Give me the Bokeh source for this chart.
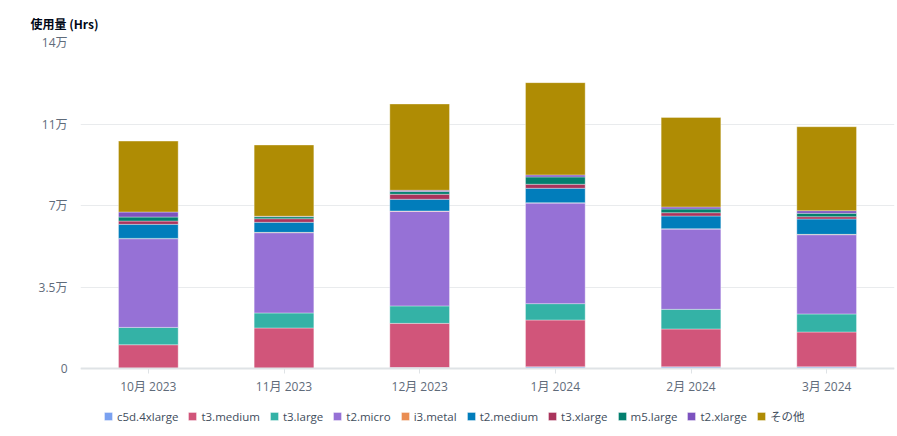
from bokeh.plotting import figure
from bokeh.models import ColumnDataSource, FixedTicker, Legend, LegendItem, FactorRange, Range1d
from bokeh.embed import file_html
from bokeh.resources import INLINE

# ---- data ----
months = ["10月 2023", "11月 2023", "12月 2023", "1月 2024", "2月 2024", "3月 2024"]
series = ["c5d.4xlarge", "t3.medium", "t3.large", "t2.micro", "i3.metal",
          "t2.medium", "t3.xlarge", "m5.large", "t2.xlarge", "その他"]
c5d_4xlarge = [0, 0, 430, 730, 730, 730]
t3_medium = [10200, 17400, 18950, 20100, 16240, 14950]
t3_large = [7450, 6460, 7500, 7020, 8440, 7750]
t2_micro = [38080, 34460, 40620, 43200, 34460, 34030]
i3_metal = [150, 150, 150, 150, 150, 150]
t2_medium = [6030, 4310, 5030, 6200, 5470, 6590]
t3_xlarge = [1420, 1550, 2150, 1720, 1420, 990]
m5_large = [1720, 860, 1150, 3150, 1590, 1460]
t2_xlarge = [2150, 200, 570, 860, 860, 1120]
other = [30450, 30590, 37050, 39630, 38470, 36060]
y_ticks = [0, 35000, 70000, 105000, 140000]
y_tick_labels = ["0", "3.5万", "7万", "11万", "14万"]
colors = ["#7aa1f0", "#d1557a", "#34b2a6", "#9671d6", "#ea8d52",
          "#017dbb", "#aa345c", "#037f6e", "#7c52bf", "#af8c04"]

keys = ["s%d" % i for i in range(len(series))]
data = dict(month=months)
for k, vals in zip(keys, [c5d_4xlarge, t3_medium, t3_large, t2_micro, i3_metal,
                          t2_medium, t3_xlarge, m5_large, t2_xlarge, other]):
    data[k] = vals
source = ColumnDataSource(data)

FONT = "'Open Sans', 'Noto Sans CJK JP'"
TXT = "#5f6b7a"

# layout geometry (pixels): value area 326 px tall, 68 px below zero for axis labels + legend
PLOT_PX = 326
BELOW_PX = 68
y_max = y_ticks[-1]
y_min = -y_max * BELOW_PX / PLOT_PX

p = figure(x_range=FactorRange(*months), y_range=Range1d(y_min, y_max),
           frame_width=814, frame_height=PLOT_PX + BELOW_PX,
           output_backend="svg", toolbar_location=None,
           min_border_left=80, min_border_right=3, min_border_top=42, min_border_bottom=0)
p.outline_line_color = None
p.background_fill_color = "white"
p.border_fill_color = "white"

renderers = p.vbar_stack(keys, x="month", width=0.44, source=source, color=colors,
                         line_color="white", line_alpha=0.35, line_width=1)

# title
p.title.text = "使用量 (Hrs)"
p.title.align = "left"
p.title.offset = -50
p.title.standoff = 22
p.title.text_font = "'Noto Sans CJK JP'"
p.title.text_font_size = "12px"
p.title.text_font_style = "bold"
p.title.text_color = "#000716"

# y axis
p.yaxis.ticker = FixedTicker(ticks=y_ticks)
p.yaxis.major_label_overrides = {t: l for t, l in zip(y_ticks, y_tick_labels)}
p.yaxis.axis_line_color = None
p.yaxis.major_tick_line_color = None
p.yaxis.minor_tick_line_color = None
p.yaxis.major_label_standoff = 7
p.yaxis.major_label_text_font = FONT
p.yaxis.major_label_text_font_size = "12px"
p.yaxis.major_label_text_color = TXT
p.ygrid.grid_line_color = "#e9ebed"
p.ygrid.grid_line_width = 1
p.xgrid.grid_line_color = None

# x axis, drawn at value 0
p.xaxis.fixed_location = 0
p.xaxis.axis_line_color = "#dfe3e6"
p.xaxis.axis_line_width = 2
p.xaxis.major_tick_line_color = "#dfe3e6"
p.xaxis.major_tick_in = 0
p.xaxis.major_tick_out = 5
p.xaxis.minor_tick_line_color = None
p.xaxis.major_label_standoff = 4
p.xaxis.major_label_text_font = FONT
p.xaxis.major_label_text_font_size = "12px"
p.xaxis.major_label_text_color = TXT

legend = Legend(items=[LegendItem(label=s, renderers=[r]) for s, r in zip(series, renderers)],
                orientation="horizontal", location=(23, 12),
                glyph_width=10, glyph_height=10, label_standoff=4, spacing=9,
                padding=0, margin=0, border_line_color=None,
                background_fill_alpha=0,
                label_text_font=FONT, label_text_font_size="11.5px",
                label_text_color="#414d5c")
p.add_layout(legend, "center")

open("out.html", "w").write(file_html(p, INLINE))
